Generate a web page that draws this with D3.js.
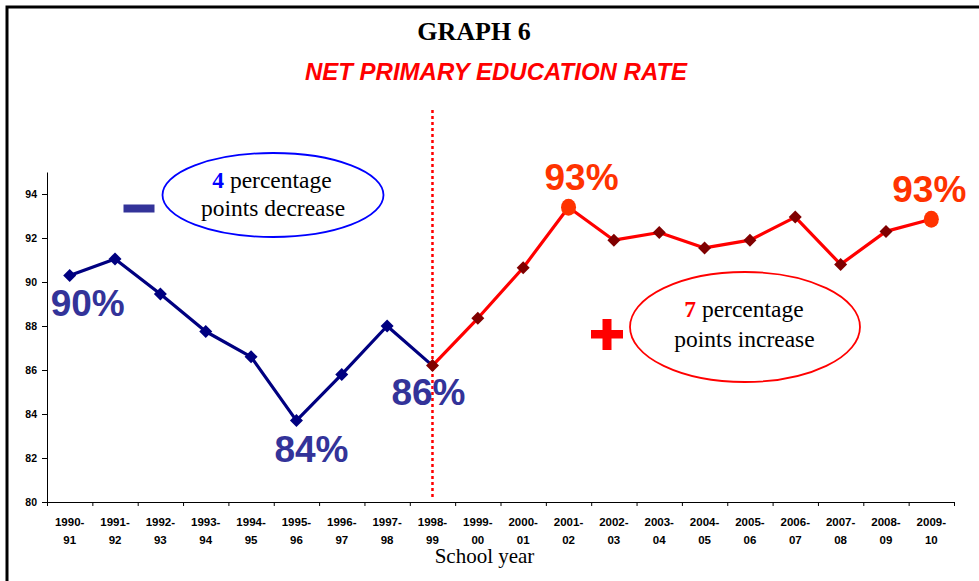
<!DOCTYPE html>
<html><head><meta charset="utf-8">
<script src="https://cdn.jsdelivr.net/npm/d3@7"></script>
<style>
html,body{margin:0;padding:0;background:#fff;}
svg{display:block;}
</style></head>
<body>
<svg id="chart" width="979" height="581"></svg>
<script>
// ---------- data ----------
const categories = ["1990-91","1991-92","1992-93","1993-94","1994-95","1995-96","1996-97","1997-98","1998-99","1999-00","2000-01","2001-02","2002-03","2003-04","2004-05","2005-06","2006-07","2007-08","2008-09","2009-10"];
const values = [90.3,91.05,89.45,87.75,86.6,83.7,85.8,88.0,86.2,88.35,90.65,93.4,91.9,92.25,91.55,91.9,92.95,90.8,92.3,92.85];
const yTicks = [80,82,84,86,88,90,92,94];
const pivotCategory = "1998-99";
const highlightCategories = ["2001-02","2009-10"];
const pctLabels = [
  {cat:"1990-91", text:"90%", kind:"down", dx:18, dy:41},
  {cat:"1995-96", text:"84%", kind:"down", dx:15, dy:41},
  {cat:"1998-99", text:"86%", kind:"down", dx:-4, dy:39},
  {cat:"2001-02", text:"93%", kind:"up", dx:13, dy:-17},
  {cat:"2009-10", text:"93%", kind:"up", dx:-2, dy:-17}
];
const titleText = "GRAPH 6";
const subtitleText = "NET PRIMARY EDUCATION RATE";
const xTitle = "School year";

// ---------- layout ----------
const svg = d3.select("#chart");
const SANS = "'Liberation Sans', Arial, sans-serif";
const SERIF = "'Liberation Serif', 'Times New Roman', serif";

const x0 = 47, x1 = 954, yBottom = 502, yTop = 172;
const x = d3.scaleBand().domain(categories).range([x0, x1]).padding(0);
const xb = d3.scaleLinear().domain([0, categories.length]).range([x0, x1]);
const y = d3.scaleLinear().domain([80, 95]).range([yBottom, yTop]);
const cx = c => x(c) + x.bandwidth() / 2;

// frame (left and top borders)
svg.append("path").attr("d", "M7,990 L7,7 L990,7")
  .attr("fill", "none").attr("stroke", "#000").attr("stroke-width", 3);

// titles
svg.append("text").attr("x", 474).attr("y", 40).attr("text-anchor", "middle")
  .attr("font-family", SERIF).attr("font-weight", "bold").attr("font-size", 26)
  .text(titleText);
svg.append("text").attr("x", 496).attr("y", 80).attr("text-anchor", "middle")
  .attr("font-family", SANS).attr("font-weight", "bold").attr("font-style", "italic")
  .attr("font-size", 24).attr("fill", "#FF0000")
  .text(subtitleText);

// y axis
const yAxis = svg.append("g").attr("transform", `translate(${x0},0)`)
  .call(d3.axisLeft(y).tickValues(yTicks).tickSize(5).tickPadding(5).tickSizeOuter(0));
yAxis.selectAll("text").attr("font-family", SANS).attr("font-weight", "bold").attr("font-size", 10.5).attr("fill", "#000");
yAxis.selectAll("line, path").attr("stroke", "#000");

// x axis (ticks at band boundaries)
const xAxis = svg.append("g").attr("transform", `translate(0,${yBottom})`)
  .call(d3.axisBottom(xb).tickValues(d3.range(0, categories.length + 1)).tickSize(4).tickSizeOuter(0).tickFormat(""));
xAxis.selectAll("line, path").attr("stroke", "#000");

const xl = svg.append("g").attr("font-family", SANS).attr("font-weight", "bold").attr("font-size", 11.5);
categories.forEach(c => {
  const parts = c.split("-");
  const t = xl.append("text").attr("text-anchor", "middle");
  t.append("tspan").attr("x", cx(c)).attr("y", 526).text(parts[0] + "-");
  t.append("tspan").attr("x", cx(c)).attr("y", 543.5).text(parts[1]);
});

// axis title on a white box (it hides the bottom of some labels, as in the source)
svg.append("rect").attr("x", 420).attr("y", 544).attr("width", 130).attr("height", 26).attr("fill", "#fff");
svg.append("text").attr("x", 484.5).attr("y", 563).attr("text-anchor", "middle")
  .attr("font-family", SERIF).attr("font-size", 21).text(xTitle);

// vertical dotted pivot line
svg.append("line").attr("x1", cx(pivotCategory)).attr("x2", cx(pivotCategory))
  .attr("y1", 110).attr("y2", 498)
  .attr("stroke", "#FF0000").attr("stroke-width", 2.5).attr("stroke-dasharray", "3,3");

// series
const data = categories.map((c, i) => ({c, v: values[i], i}));
const pivotIdx = categories.indexOf(pivotCategory);
const downData = data.slice(0, pivotIdx + 1);
const upData = data.slice(pivotIdx);
const line = d3.line().x(d => cx(d.c)).y(d => y(d.v));

svg.append("path").datum(downData).attr("d", line)
  .attr("fill", "none").attr("stroke", "#000080").attr("stroke-width", 3.2).attr("stroke-linejoin", "round");
svg.append("path").datum(upData).attr("d", line)
  .attr("fill", "none").attr("stroke", "#FF0000").attr("stroke-width", 3.2).attr("stroke-linejoin", "round");

const diamond = (px, py, r) => `M${px},${py - r}L${px + r},${py}L${px},${py + r}L${px - r},${py}Z`;
svg.append("g").selectAll("path").data(data.filter(d => !highlightCategories.includes(d.c)))
  .join("path")
  .attr("d", d => diamond(cx(d.c), y(d.v), 6.5))
  .attr("fill", d => d.i < pivotIdx ? "#000080" : "#800000");

svg.append("g").selectAll("ellipse").data(data.filter(d => highlightCategories.includes(d.c)))
  .join("ellipse")
  .attr("cx", d => cx(d.c)).attr("cy", d => y(d.v)).attr("rx", 7.5).attr("ry", 8.5)
  .attr("fill", "#FF3300");

// percentage labels
svg.append("g").selectAll("text").data(pctLabels).join("text")
  .attr("x", d => cx(d.cat) + d.dx)
  .attr("y", d => y(values[categories.indexOf(d.cat)]) + d.dy)
  .attr("text-anchor", "middle")
  .attr("font-family", SANS).attr("font-weight", "bold").attr("font-size", 37)
  .attr("fill", d => d.kind === "down" ? "#333399" : "#FF3300")
  .text(d => d.text);

// annotation: decrease
svg.append("rect").attr("x", 123.5).attr("y", 204.5).attr("width", 31).attr("height", 8).attr("fill", "#333399");
svg.append("ellipse").attr("cx", 273).attr("cy", 195).attr("rx", 110.5).attr("ry", 42)
  .attr("fill", "none").attr("stroke", "#0000FF").attr("stroke-width", 1.8);
const t1 = svg.append("text").attr("text-anchor", "middle").attr("font-family", SERIF).attr("font-size", 23.5);
const l1 = t1.append("tspan").attr("x", 272).attr("y", 188);
l1.append("tspan").attr("font-weight", "bold").attr("fill", "#0000FF").text("4");
l1.append("tspan").text(" percentage");
t1.append("tspan").attr("x", 273).attr("y", 215.5).text("points decrease");

// annotation: increase
svg.append("rect").attr("x", 591).attr("y", 330).attr("width", 32).attr("height", 8.5).attr("fill", "#FF0000");
svg.append("rect").attr("x", 602.5).attr("y", 319).attr("width", 9).attr("height", 31).attr("fill", "#FF0000");
svg.append("ellipse").attr("cx", 745).attr("cy", 327).attr("rx", 115).attr("ry", 55)
  .attr("fill", "none").attr("stroke", "#FF0000").attr("stroke-width", 1.8);
const t2 = svg.append("text").attr("text-anchor", "middle").attr("font-family", SERIF).attr("font-size", 23.5);
const l2 = t2.append("tspan").attr("x", 744).attr("y", 317);
l2.append("tspan").attr("font-weight", "bold").attr("fill", "#FF0000").text("7");
l2.append("tspan").text(" percentage");
t2.append("tspan").attr("x", 744.5).attr("y", 347).text("points increase");
</script>
</body></html>
